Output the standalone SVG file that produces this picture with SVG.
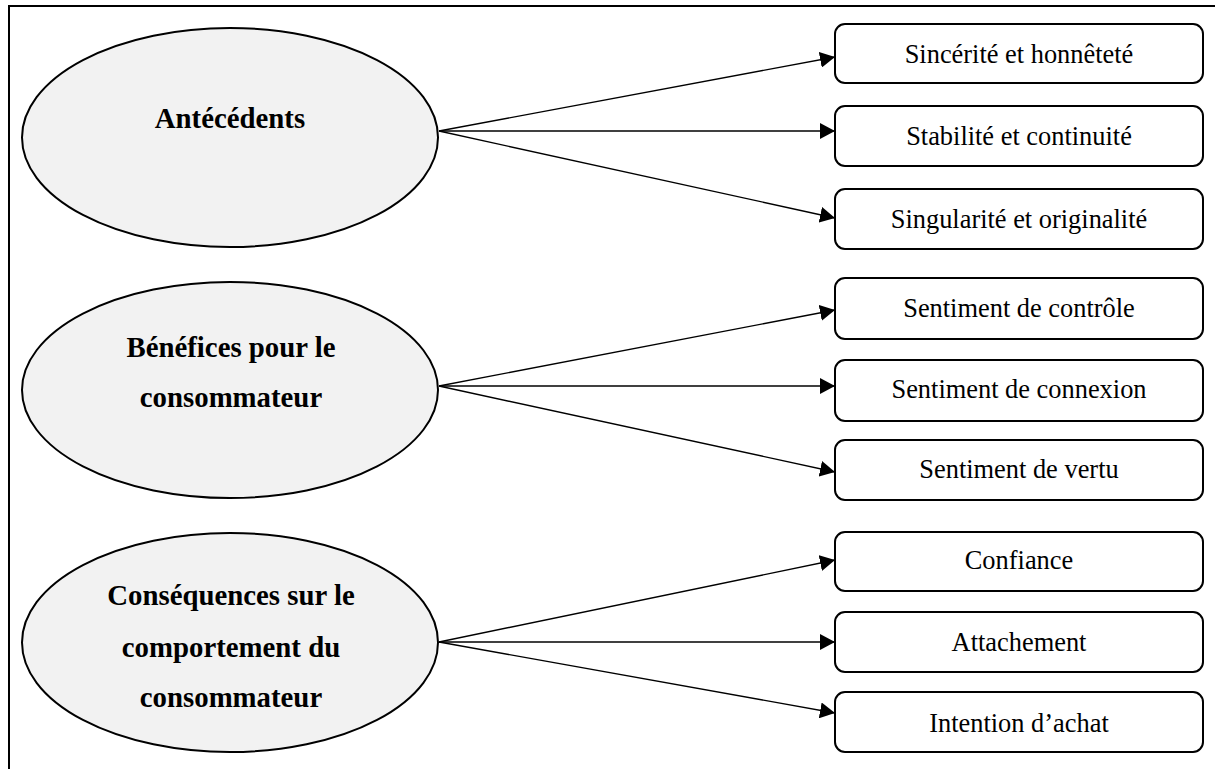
<svg xmlns="http://www.w3.org/2000/svg" width="1215" height="769" viewBox="0 0 1215 769">
<style>
.ell{fill:#f2f2f2;stroke:#000;stroke-width:2}
.box{fill:#fff;stroke:#000;stroke-width:2}
.h{font-family:"Liberation Serif","Times New Roman",serif;font-weight:bold;font-size:28.8px;text-anchor:middle;fill:#000}
.t{font-family:"Liberation Serif","Times New Roman",serif;font-size:26.4px;text-anchor:middle;fill:#000}
.c{stroke:#000;stroke-width:1.4;fill:none;marker-end:url(#ah)}
</style>
<defs>
<marker id="ah" markerUnits="userSpaceOnUse" markerWidth="16" markerHeight="16" refX="15" refY="8" orient="auto">
<path d="M0,0 L15,8 L0,16 z" fill="#000"/>
</marker>
</defs>
<rect width="1215" height="769" fill="#fff"/>
<path d="M9,769 V6 H1215" fill="none" stroke="#000" stroke-width="2"/>
<g id="connectors">
<line class="c" x1="439" y1="131" x2="835" y2="57"/>
<line class="c" x1="439" y1="131" x2="835" y2="131"/>
<line class="c" x1="439" y1="131" x2="835" y2="218"/>
<line class="c" x1="439" y1="386" x2="835" y2="310"/>
<line class="c" x1="439" y1="386" x2="835" y2="386"/>
<line class="c" x1="439" y1="386" x2="835" y2="472"/>
<line class="c" x1="439" y1="642" x2="835" y2="560"/>
<line class="c" x1="439" y1="642" x2="835" y2="642"/>
<line class="c" x1="439" y1="642" x2="835" y2="713"/>
</g>
<g id="antecedents">
<ellipse class="ell" cx="230" cy="137.5" rx="208" ry="109.5"/>
<text class="h" x="230" y="128">Antécédents</text>
</g>
<g id="benefices">
<ellipse class="ell" cx="230" cy="390" rx="208" ry="108"/>
<text class="h" x="231" y="357">Bénéfices pour le</text>
<text class="h" x="231" y="407">consommateur</text>
</g>
<g id="consequences">
<ellipse class="ell" cx="230" cy="642.5" rx="208" ry="109.5"/>
<text class="h" x="231" y="605">Conséquences sur le</text>
<text class="h" x="231" y="657">comportement du</text>
<text class="h" x="231" y="707">consommateur</text>
</g>
<g id="sincerite">
<rect class="box" x="835" y="24" width="368" height="59" rx="10"/>
<text class="t" x="1019" y="63">Sincérité et honnêteté</text>
</g>
<g id="stabilite">
<rect class="box" x="835" y="106" width="368" height="60" rx="10"/>
<text class="t" x="1019" y="145">Stabilité et continuité</text>
</g>
<g id="singularite">
<rect class="box" x="835" y="189" width="368" height="60" rx="10"/>
<text class="t" x="1019" y="228">Singularité et originalité</text>
</g>
<g id="controle">
<rect class="box" x="835" y="278" width="368" height="61" rx="10"/>
<text class="t" x="1019" y="317">Sentiment de contrôle</text>
</g>
<g id="connexion">
<rect class="box" x="835" y="360" width="368" height="61" rx="10"/>
<text class="t" x="1019" y="398">Sentiment de connexion</text>
</g>
<g id="vertu">
<rect class="box" x="835" y="440" width="368" height="60" rx="10"/>
<text class="t" x="1019" y="478">Sentiment de vertu</text>
</g>
<g id="confiance">
<rect class="box" x="835" y="532" width="368" height="59" rx="10"/>
<text class="t" x="1019" y="569">Confiance</text>
</g>
<g id="attachement">
<rect class="box" x="835" y="612" width="368" height="60" rx="10"/>
<text class="t" x="1019" y="651">Attachement</text>
</g>
<g id="intention">
<rect class="box" x="835" y="692" width="368" height="60" rx="10"/>
<text class="t" x="1019" y="732">Intention d’achat</text>
</g>
</svg>
